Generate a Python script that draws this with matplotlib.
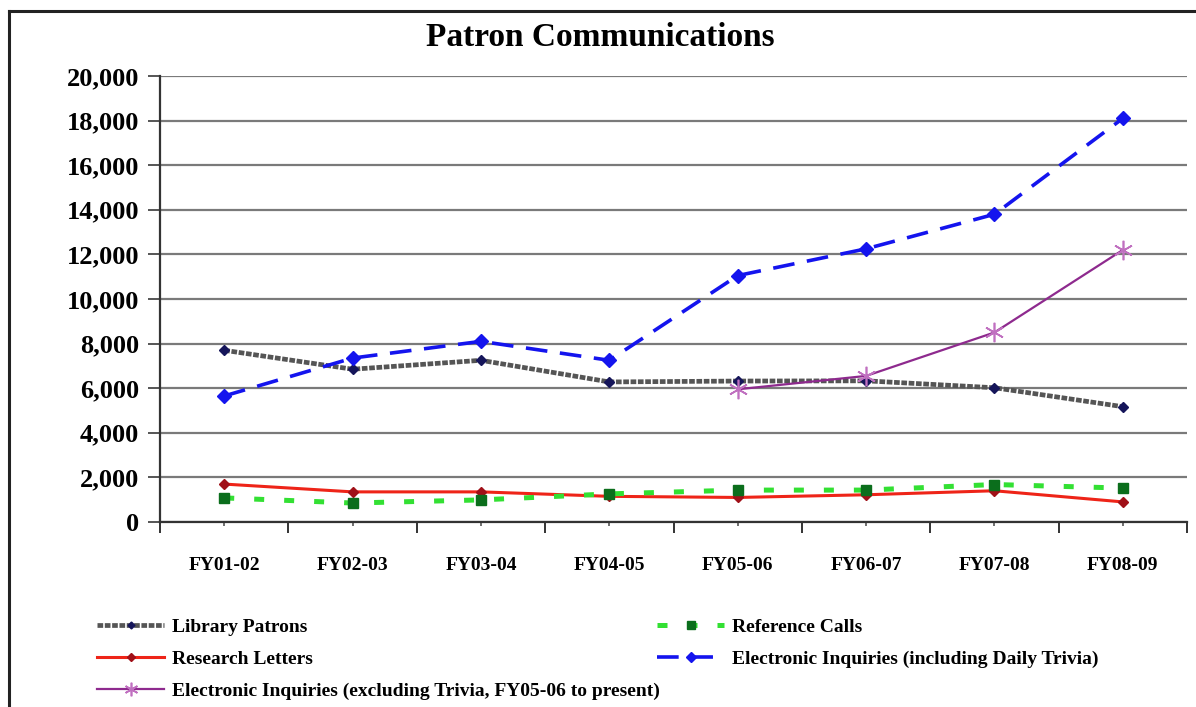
import matplotlib
matplotlib.use('Agg')
import matplotlib.pyplot as plt
from matplotlib.lines import Line2D
from matplotlib.ticker import FuncFormatter, FixedLocator

# Data
years = ['FY01-02', 'FY02-03', 'FY03-04', 'FY04-05', 'FY05-06', 'FY06-07', 'FY07-08', 'FY08-09']
library_patrons = [7700, 6850, 7250, 6280, 6320, 6330, 6020, 5170]
research_letters = [1700, 1350, 1350, 1150, 1100, 1220, 1400, 900]
reference_calls = [1080, 850, 990, 1260, 1430, 1430, 1680, 1520]
einq_incl = [5650, 7350, 8100, 7250, 11050, 12250, 13800, 18100]
einq_excl_years = ['FY05-06', 'FY06-07', 'FY07-08', 'FY08-09']
einq_excl = [5950, 6550, 8500, 12200]

font = 'Liberation Serif'
plt.rcParams['font.family'] = font
plt.rcParams['font.weight'] = 'bold'

fig = plt.figure(figsize=(11.96, 7.07), dpi=100)
ax = fig.add_axes([0.1338, 0.2617, 0.8587, 0.6308])

xs = [i + 0.5 for i in range(len(years))]
xs_excl = [years.index(y) + 0.5 for y in einq_excl_years]

ax.set_xlim(0, len(years))
ax.set_ylim(0, 20000)
ax.set_yticks(range(0, 20001, 2000))
ax.yaxis.set_major_formatter(FuncFormatter(lambda v, p: f'{int(v):,}'))
ax.grid(axis='y', color='#7a7a7a', linewidth=1.6)
ax.set_axisbelow(True)

ax.xaxis.set_major_locator(FixedLocator(range(len(years) + 1)))
ax.xaxis.set_minor_locator(FixedLocator(xs))
ax.set_xticklabels([''] * (len(years) + 1))
ax.set_xticklabels(years, minor=True)
ax.tick_params(axis='x', which='major', length=8, width=1.4, color='#333333')
ax.tick_params(axis='x', which='minor', length=3, width=1.2, color='#555555',
               pad=22, labelsize=14)
ax.tick_params(axis='y', length=9, width=1.4, color='#555555', pad=6, labelsize=19)

for s in ['top', 'right']:
    ax.spines[s].set_visible(False)
for s in ['left', 'bottom']:
    ax.spines[s].set_color('#333333')
    ax.spines[s].set_linewidth(1.6)

lp, = ax.plot(xs, library_patrons, color='#555555', lw=3.4,
              linestyle=(0, (1.2, 0.35)), marker='D', markersize=5,
              markerfacecolor='#15155a', markeredgecolor='#15155a',
              label='Library Patrons', zorder=3)
rl, = ax.plot(xs, research_letters, color='#ee2418', lw=2.2, marker='D',
              markersize=5.5, markerfacecolor='#a01018', markeredgecolor='#a01018',
              label='Research Letters', zorder=3)
rc, = ax.plot(xs, reference_calls, color='#33e033', lw=3.6, linestyle=(0, (2, 4)),
              marker='s', markersize=7.5, markerfacecolor='#0b6e1c',
              markeredgecolor='#0b6e1c', label='Reference Calls', zorder=3)
ei, = ax.plot(xs, einq_incl, color='#1414ee', lw=2.6, linestyle=(0, (6, 3.5)),
              marker='D', markersize=7, markerfacecolor='#1414ee',
              markeredgecolor='#1414ee',
              label='Electronic Inquiries (including Daily Trivia)', zorder=4)
ex, = ax.plot(xs_excl, einq_excl, color='#8e2a8e', lw=1.6, marker=(6, 2, 0),
              markersize=14, markeredgecolor='#c070c0', markeredgewidth=1.2,
              label='Electronic Inquiries (excluding Trivia, FY05-06 to present)',
              zorder=4)

leg_kw = dict(frameon=False, fontsize=14, handlelength=3.45, handletextpad=0.4,
              labelspacing=0.75, borderpad=0, borderaxespad=0, markerscale=0.7)
leg1 = fig.legend(handles=[lp, rl, ex], loc='upper left',
                  bbox_to_anchor=(97 / 1196, 1 - 618 / 707), **leg_kw)
leg2 = fig.legend(handles=[rc, ei], loc='upper left',
                  bbox_to_anchor=(657 / 1196, 1 - 618 / 707), **leg_kw)

fig.text(0.502, 1 - 38 / 707, 'Patron Communications', ha='center', va='center',
         fontsize=24, fontweight='bold')

# outer frame (left and top edges visible)
fig.add_artist(Line2D([9 / 1196, 9 / 1196], [0, 1 - 11 / 707],
                      transform=fig.transFigure, color='#222222', lw=2.2))
fig.add_artist(Line2D([9 / 1196, 1], [1 - 11 / 707, 1 - 11 / 707],
                      transform=fig.transFigure, color='#222222', lw=2.2))

fig.savefig('out.png', dpi=100)
